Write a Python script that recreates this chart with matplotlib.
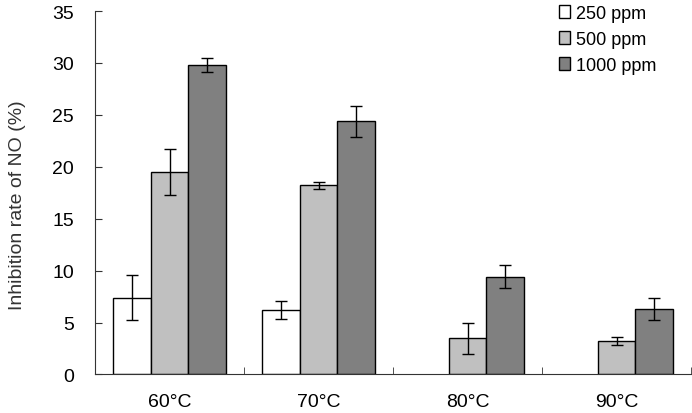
import numpy as np
import matplotlib
matplotlib.use("Agg")
import matplotlib.pyplot as plt

plt.rcParams['font.family'] = ['Liberation Sans', 'DejaVu Sans']

temps = ['60°C', '70°C', '80°C', '90°C']
series = ['250 ppm', '500 ppm', '1000 ppm']
colors = ['white', '#c0c0c0', '#808080']

# NaN = no bar for that group
vals_250 = [7.4, 6.2, np.nan, np.nan]
err_250 = [2.2, 0.85, np.nan, np.nan]
vals_500 = [19.5, 18.2, 3.5, 3.2]
err_500 = [2.2, 0.3, 1.5, 0.4]
vals_1000 = [29.8, 24.4, 9.4, 6.3]
err_1000 = [0.7, 1.5, 1.1, 1.05]

values = [vals_250, vals_500, vals_1000]
errors = [err_250, err_500, err_1000]

fig = plt.figure(figsize=(6.92, 4.14), dpi=100)
ax = fig.add_axes([0.1373, 0.093, 0.8613, 0.878])

x = np.arange(len(temps))
w = 0.2525
for i in range(3):
    v = np.array(values[i], dtype=float)
    e = np.array(errors[i], dtype=float)
    m = ~np.isnan(v)
    ax.bar(x[m] + (i - 1) * w, v[m], w, color=colors[i], edgecolor='black',
           linewidth=1.0, label=series[i],
           yerr=e[m], capsize=4.3, error_kw=dict(ecolor='black', elinewidth=1.0, capthick=1.0))

ax.set_xlim(-0.5, 3.5)
ax.set_ylim(0, 35)
ax.set_yticks(range(0, 36, 5))
ax.set_xticks(x)
ax.set_xticklabels(temps, fontsize=14)
ax.set_xticks(np.arange(0.5, 4, 1), minor=True)
ax.tick_params(axis='x', which='major', length=0, pad=13)
ax.tick_params(axis='x', which='minor', direction='in', length=5, color='#333333')
ax.tick_params(axis='y', direction='in', length=5, labelsize=14, color='#333333', pad=15)
ax.set_ylabel('Inhibition rate of NO (%)', fontsize=14, color='#333333')
ax.yaxis.set_label_coords(-0.115, 0.468)

for s in ['top', 'right']:
    ax.spines[s].set_visible(False)
for s in ['left', 'bottom']:
    ax.spines[s].set_color('#333333')

ax.legend(loc='upper left', bbox_to_anchor=(0.797, 1.003), bbox_transform=fig.transFigure,
          frameon=False, fontsize=13, handlelength=0.65, handleheight=0.7,
          handletextpad=0.3, labelspacing=0.5, borderaxespad=0)

fig.savefig('out.png', dpi=100)
